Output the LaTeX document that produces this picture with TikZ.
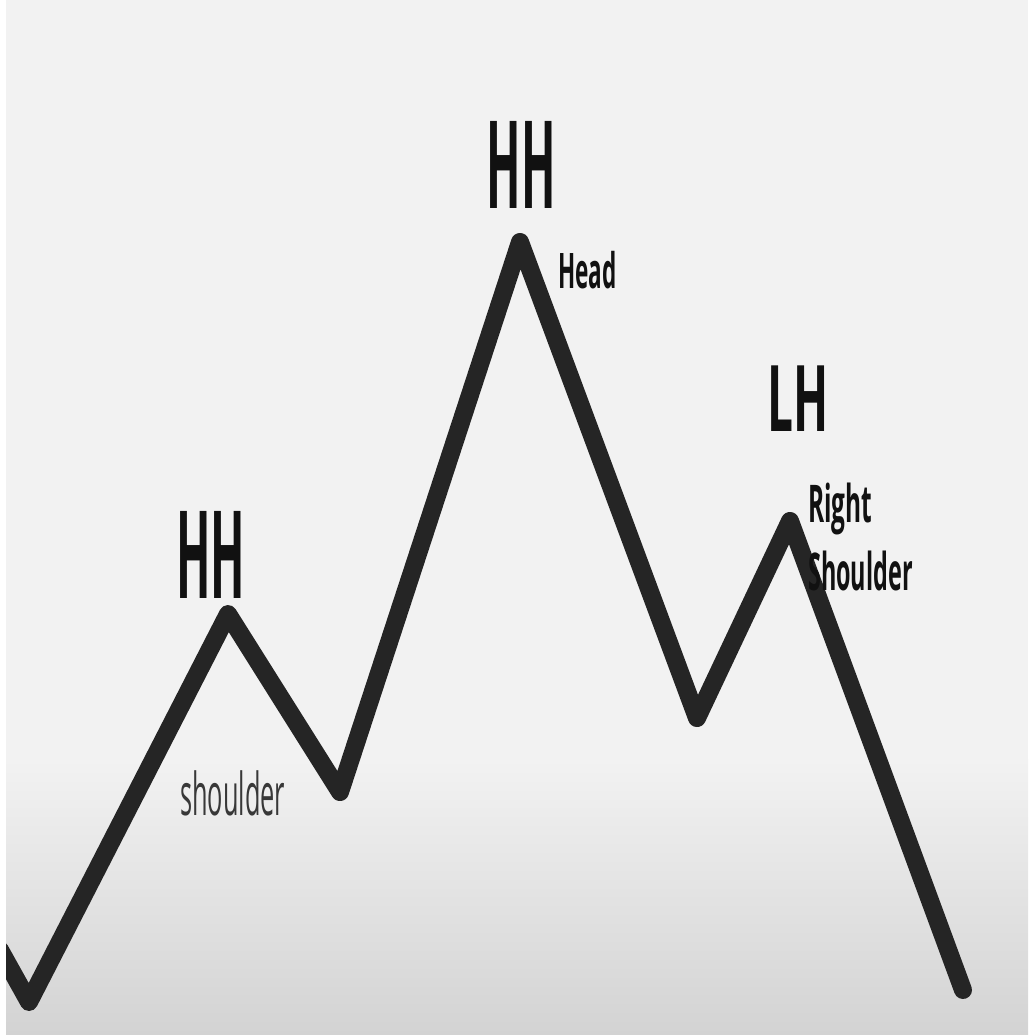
\documentclass[tikz,border=0pt]{standalone}
\usepackage{fontspec}
\setmainfont{Open Sans}
\usepackage{graphicx}
\definecolor{bgtop}{HTML}{F2F2F2}
\definecolor{bgbot}{HTML}{D3D3D3}
\definecolor{linec}{HTML}{252525}
\definecolor{textc}{HTML}{111111}
\definecolor{softc}{HTML}{383838}
\newcommand{\sqz}[2]{\scalebox{#1}[1]{#2}}
\begin{document}
\begin{tikzpicture}[x=1pt,y=-1pt,
  big/.style={inner sep=0pt, anchor=base, text=textc, font=\bfseries},
  lbl/.style={inner sep=0pt, anchor=base west, text=textc, font=\bfseries},
  zig/.style={line width=18pt, draw=linec, line join=round, line cap=round}]
\useasboundingbox (0,0) rectangle (1028,1035);
\fill[white] (0,0) rectangle (1028,1035);
\fill[bgtop] (6,0) rectangle (1028,760);
\shade[top color=bgtop, bottom color=bgbot] (6,759) rectangle (1028,1035);
% polyline points
\coordinate (s0) at (0,950);
\coordinate (t1) at (29,1002);
\coordinate (p1) at (228,614);
\coordinate (t2) at (340,792);
\coordinate (p2) at (520,242);
\coordinate (t3) at (697,718);
\coordinate (p3) at (790,521);
\coordinate (e0) at (963,990);
\begin{scope}
\clip (6,0) rectangle (1028,1035);
\draw[zig] (s0) -- (t1) -- (p1) -- (t2) -- (p2) -- (t3) -- (p3) -- (e0);
\end{scope}
% labels
\node[big] (hh1) at (211,598) {\fontsize{122}{130}\selectfont\sqz{0.37}{HH}};
\node[big] (hh2) at (521,208) {\fontsize{122}{130}\selectfont\sqz{0.37}{HH}};
\node[big] (lh) at (798,431) {\fontsize{92}{100}\selectfont\sqz{0.5}{LH}};
\node[lbl] (head) at (558,288) {\fontsize{49}{52}\selectfont\sqz{0.46}{Head}};
\node[lbl] (right) at (808,522) {\fontsize{52}{56}\selectfont\sqz{0.47}{Right}};
\node[lbl] (shr) at (808,590) {\fontsize{52}{56}\selectfont\sqz{0.45}{Shoulder}};
\node[lbl, font=\mdseries, text=softc] (shl) at (180,815) {\fontsize{59}{62}\selectfont\sqz{0.43}{shoulder}};
\end{tikzpicture}
\end{document}
